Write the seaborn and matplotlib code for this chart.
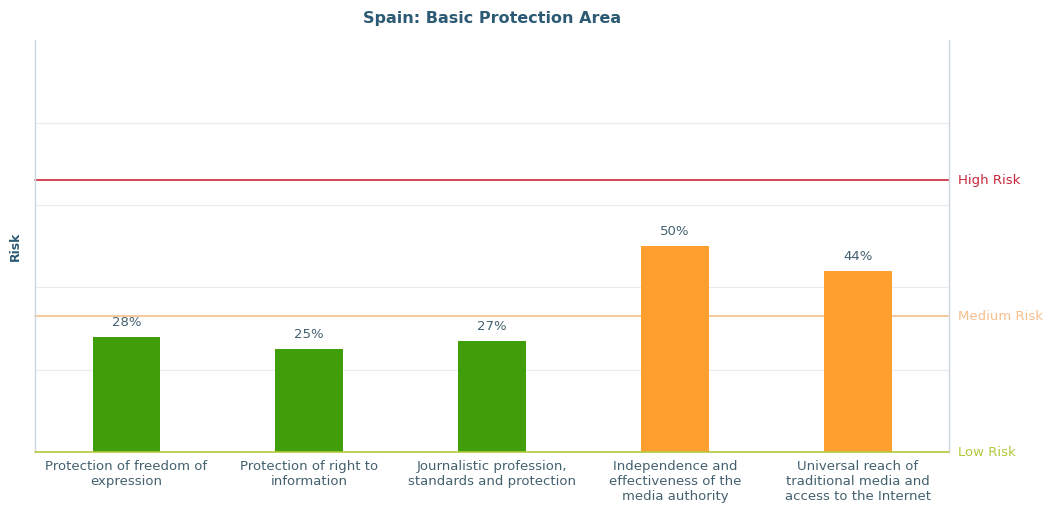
import matplotlib
matplotlib.use('Agg')
import matplotlib.pyplot as plt
import pandas as pd
import seaborn as sns

# Data
indicators = ['Protection of freedom of\nexpression',
              'Protection of right to\ninformation',
              'Journalistic profession,\nstandards and protection',
              'Independence and\neffectiveness of the\nmedia authority',
              'Universal reach of\ntraditional media and\naccess to the Internet']
risk_values = [28, 25, 27, 50, 44]
thresholds = [0, 33, 66]
threshold_labels = ['Low Risk', 'Medium Risk', 'High Risk']

GREEN = '#3f9e0a'
ORANGE = '#ff9f2f'
threshold_colors = ['#b3c83c', '#f6bf8c', '#c8283a']
TEXT = '#43606f'

df = pd.DataFrame({'indicator': indicators, 'risk': risk_values})
bar_colors = [GREEN if v < 33 else ORANGE for v in risk_values]

sns.set_style('white')
plt.rcParams['font.family'] = ['DejaVu Sans']

fig = plt.figure(figsize=(10.43, 5.08), dpi=100)
ax = fig.add_axes([0.0336, 0.110, 0.8764, 0.811])

sns.barplot(data=df, x='indicator', y='risk', hue='indicator',
            palette=bar_colors, legend=False, width=0.37, ax=ax,
            saturation=1, zorder=3, linewidth=0)

ax.set_ylim(0, 100)
ax.set_xlim(-0.5, 4.5)
ax.set_yticks([20, 40, 60, 80])
ax.yaxis.grid(True, color='#e9ecee', linewidth=0.8)
ax.set_yticklabels([])
ax.tick_params(axis='y', length=0)
ax.tick_params(axis='x', length=0, labelsize=9.5, labelcolor=TEXT, pad=6)
ax.set_xlabel('')
ax.set_ylabel('Risk', fontsize=9, fontweight='bold', color='#2c5a74', labelpad=6)

for side in ['left', 'right']:
    ax.spines[side].set_color('#ccd6dd')
    ax.spines[side].set_linewidth(1)
ax.spines['top'].set_visible(False)
ax.spines['bottom'].set_visible(False)

# threshold lines and labels
for t, lab, c in zip(thresholds, threshold_labels, threshold_colors):
    ax.axhline(t, color=c, linewidth=1.2, zorder=2 if t > 0 else 4, clip_on=False)
    ax.text(1.01, t, lab, transform=ax.get_yaxis_transform(), color=c,
            fontsize=9.5, va='center', ha='left')

# value labels
for i, v in enumerate(risk_values):
    ax.text(i, v + 2, f'{v}%', ha='center', va='bottom', fontsize=9.5, color=TEXT)

ax.set_title('Spain: Basic Protection Area', fontsize=11.5, fontweight='bold',
             color='#2c5a74', pad=12)

fig.savefig('out.png', dpi=100)
